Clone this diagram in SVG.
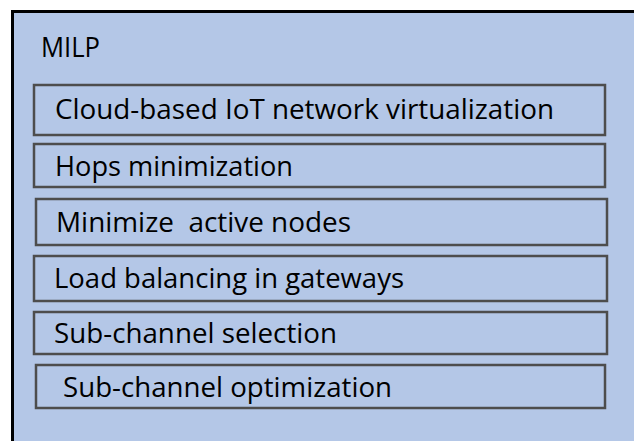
<svg xmlns="http://www.w3.org/2000/svg" width="634" height="441" viewBox="0 0 634 441">
<style>
.outer{fill:#b4c7e7;stroke:#000;stroke-width:3}
.item{fill:#b4c7e7;stroke:#4d4d4d;stroke-width:2.5}
text{font-family:"Open Sans","Liberation Sans",sans-serif;font-size:27px;fill:#000}
</style>
<rect x="0" y="0" width="634" height="441" fill="#fff"/>
<g id="milp">
<rect class="outer" x="12.5" y="11.5" width="630" height="440"/>
<text x="41" y="57" textLength="59" lengthAdjust="spacingAndGlyphs">MILP</text>
</g>
<g id="n1"><rect class="item" x="34" y="85" width="571" height="50"/><text x="55" y="119" textLength="499" lengthAdjust="spacingAndGlyphs">Cloud-based IoT network virtualization</text></g>
<g id="n2"><rect class="item" x="34" y="144" width="571" height="43"/><text x="55" y="176" textLength="238" lengthAdjust="spacingAndGlyphs">Hops minimization</text></g>
<g id="n3"><rect class="item" x="36" y="199" width="571" height="46"/><text x="56" y="232" xml:space="preserve" textLength="295" lengthAdjust="spacingAndGlyphs">Minimize  active nodes</text></g>
<g id="n4"><rect class="item" x="34" y="256" width="573" height="45"/><text x="54" y="288" textLength="350" lengthAdjust="spacingAndGlyphs">Load balancing in gateways</text></g>
<g id="n5"><rect class="item" x="34" y="312" width="573" height="42"/><text x="54" y="343" textLength="283" lengthAdjust="spacingAndGlyphs">Sub-channel selection</text></g>
<g id="n6"><rect class="item" x="36" y="365" width="569" height="43"/><text x="63" y="397" textLength="329" lengthAdjust="spacingAndGlyphs">Sub-channel optimization</text></g>
<g id="connectors"/>
</svg>
